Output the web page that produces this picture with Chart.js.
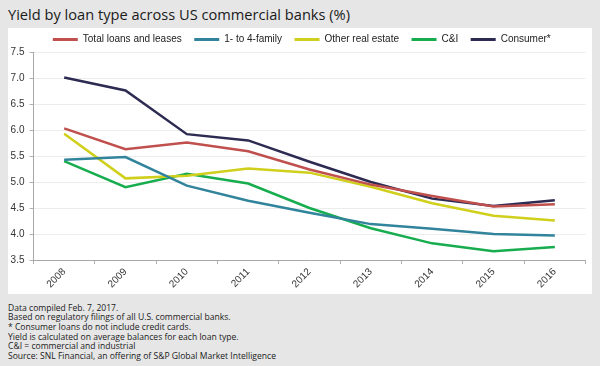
<!DOCTYPE html>
<html>
<head>
<meta charset="utf-8">
<script src="https://cdn.jsdelivr.net/npm/chart.js@4/dist/chart.umd.min.js"></script>
<style>
  html, body { margin:0; padding:0; }
  body { width:600px; height:366px; background:#e6e6e6; position:relative; overflow:hidden; font-family:"Open Sans", sans-serif; }
  #title { position:absolute; left:8px; top:6.7px; font-size:15px; line-height:15px; color:#1a1a1a; white-space:nowrap; transform-origin:0 0; }
  #panel { position:absolute; left:7.5px; top:27.7px; width:584px; height:266.5px; background:#fff; }
  #panel canvas { display:block; }
  #notes { position:absolute; left:8px; top:302.5px; font-size:9.5px; line-height:9.7px; color:#1a1a1a; white-space:nowrap; transform-origin:0 0; }
</style>
</head>
<body>
<div id="title">Yield by loan type across US commercial banks (%)</div>
<div id="panel"><canvas id="c" width="584" height="266"></canvas></div>
<div id="notes">Data compiled Feb. 7, 2017.<br>Based on regulatory filings of all U.S. commercial banks.<br>* Consumer loans do not include credit cards.<br>Yield is calculated on average balances for each loan type.<br>C&amp;I = commercial and industrial<br><span id="src">Source: SNL Financial, an offering of S&amp;P Global Market Intelligence</span></div>
<script>
// ---- data ----
const years = ['2008','2009','2010','2011','2012','2013','2014','2015','2016'];
const totalLoans = [6.03, 5.63, 5.76, 5.59, 5.24, 4.95, 4.73, 4.53, 4.57];
const oneToFourFamily = [5.43, 5.48, 4.93, 4.64, 4.41, 4.19, 4.10, 4.00, 3.97];
const otherRealEstate = [5.93, 5.07, 5.12, 5.26, 5.18, 4.91, 4.59, 4.35, 4.26];
const cAndI = [5.40, 4.90, 5.16, 4.97, 4.50, 4.11, 3.82, 3.67, 3.75];
const consumer = [7.01, 6.76, 5.92, 5.80, 5.39, 5.00, 4.68, 4.54, 4.65];
const seriesNames = ['Total loans and leases', '1- to 4-family', 'Other real estate', 'C&I', 'Consumer*'];
const yTicks = ['3.5','4.0','4.5','5.0','5.5','6.0','6.5','7.0','7.5'];

// scale text widths to match
function fitWidth(el, w){ const cur = el.getBoundingClientRect().width; el.style.transform = 'scaleX(' + (w/cur) + ')'; }
fitWidth(document.getElementById('title'), 342);
(function(){
  const notes = document.getElementById('notes');
  const src = document.getElementById('src');
  const cur = src.getBoundingClientRect().width;
  notes.style.transform = 'scaleX(' + (268/cur) + ')';
})();

const colors = ['#c0504d', '#31849b', '#cfcf1c', '#17ad4f', '#2d2b52'];
const seriesData = [totalLoans, oneToFourFamily, otherRealEstate, cAndI, consumer];

const legendTweak = {
  id: 'legendTweak',
  beforeLayout(chart) {
    const lg = chart.legend;
    if (lg && !lg._patched) {
      const f = lg.fit.bind(lg);
      lg.fit = function(){ f(); this.height = 24; };
      lg._patched = true;
    }
  },
  afterLayout(chart) {
    const lg = chart.legend;
    if (lg) { lg.top = -6; lg.bottom = 30; lg.left += 5; lg.right += 5; }
  }
};

Chart.defaults.font.family = '"Liberation Sans", Arial, sans-serif';
Chart.defaults.color = '#333';

new Chart(document.getElementById('c'), {
  type: 'line',
  data: {
    labels: years,
    datasets: seriesData.map((d, i) => ({
      label: seriesNames[i],
      data: d,
      borderColor: colors[i],
      backgroundColor: colors[i],
      borderWidth: 2.5,
      pointRadius: 0,
      tension: 0,
      fill: false
    }))
  },
  options: {
    responsive: false,
    animation: false,
    devicePixelRatio: 1,
    layout: { padding: { left: 0, right: 6.5, top: 0, bottom: 0 } },
    plugins: {
      legend: {
        position: 'top',
        labels: {
          boxWidth: 25,
          boxHeight: 3,
          padding: 12.5,
          color: '#222',
          font: { size: 10 },
          generateLabels(chart) {
            const items = Chart.defaults.plugins.legend.labels.generateLabels(chart);
            items.forEach(it => { it.lineWidth = 0; it.fillStyle = it.strokeStyle; });
            return items;
          }
        }
      },
      tooltip: { enabled: false }
    },
    scales: {
      x: {
        type: 'category',
        offset: true,
        grid: { display: true, drawOnChartArea: false, drawTicks: true, tickLength: 4, offset: true, tickColor: '#b0b0b0' },
        border: { display: true, color: '#a8a8a8', width: 1 },
        ticks: { minRotation: 45, maxRotation: 45, padding: 2, font: { size: 10 }, color: '#333' },
        afterFit(scale) { scale.height = 34; }
      },
      y: {
        min: 3.5,
        max: 7.5,
        grid: { color: '#ececec', lineWidth: 1, tickLength: 4, tickColor: '#b0b0b0' },
        border: { display: true, color: '#a8a8a8', width: 1 },
        ticks: {
          stepSize: 0.5,
          padding: 5,
          font: { size: 10 },
          color: '#333',
          callback: (v, i) => yTicks[i]
        },
        afterFit(scale) { scale.width = 25.5; }
      }
    }
  },
  plugins: [legendTweak]
});
</script>
</body>
</html>
